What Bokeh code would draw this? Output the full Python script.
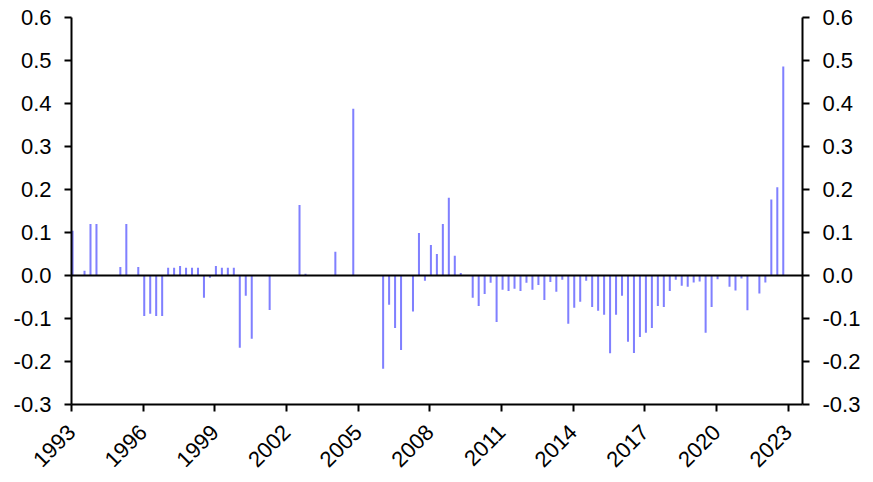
import math
from bokeh.plotting import figure
from bokeh.models import Range1d, LinearAxis, FixedTicker, PrintfTickFormatter, Span, ColumnDataSource
from bokeh.embed import file_html
from bokeh.resources import INLINE

# Quarterly series, starting 1993 Q1
start_year = 1993
values = [
    0.104, 0.000, 0.011, 0.120, 0.120, 0.000, 0.000, 0.000,      # 1993-1994
    0.020, 0.120, 0.000, 0.020, -0.094, -0.089, -0.094, -0.094,  # 1995-1996
    0.018, 0.018, 0.022, 0.018, 0.018, 0.018, -0.052, -0.005,    # 1997-1998
    0.022, 0.018, 0.018, 0.018, -0.168, -0.047, -0.147, 0.000,   # 1999-2000
    0.000, -0.080, 0.000, 0.000, 0.000, 0.000, 0.164, 0.004,     # 2001-2002
    0.000, 0.000, 0.000, 0.000, 0.055, 0.000, 0.000, 0.388,      # 2003-2004
    0.000, 0.000, 0.000, 0.000, -0.217, -0.068, -0.122, -0.173,  # 2005-2006
    0.000, -0.084, 0.099, -0.012, 0.071, 0.050, 0.120, 0.181,    # 2007-2008
    0.046, 0.006, 0.000, -0.052, -0.071, -0.043, -0.017, -0.108, # 2009-2010
    -0.033, -0.036, -0.031, -0.036, -0.017, -0.033, -0.022, -0.057,  # 2011-2012
    -0.015, -0.038, -0.010, -0.112, -0.075, -0.061, -0.012, -0.073,  # 2013-2014
    -0.082, -0.091, -0.181, -0.091, -0.047, -0.154, -0.180, -0.143,  # 2015-2016
    -0.133, -0.122, -0.071, -0.073, -0.036, -0.010, -0.024, -0.026,  # 2017-2018
    -0.016, -0.014, -0.133, -0.073, -0.009, 0.000, -0.026, -0.035,   # 2019-2020
    -0.007, -0.081, 0.000, -0.042, -0.016, 0.177, 0.205, 0.486,      # 2021-2022
]
x_ticks = [1993, 1996, 1999, 2002, 2005, 2008, 2011, 2014, 2017, 2020, 2023]
y_ticks = [-0.3, -0.2, -0.1, 0.0, 0.1, 0.2, 0.3, 0.4, 0.5, 0.6]

# bars sit just to the right of each quarter's start
xs = [start_year + 0.25 * i + 0.045 for i in range(len(values))]
src = ColumnDataSource(data=dict(x=xs, v=values))

FONT = "Liberation Sans"
p = figure(width=868, height=480,
           x_range=Range1d(1993, 2023.6), y_range=Range1d(-0.3, 0.6),
           output_backend="svg", toolbar_location=None,
           min_border_left=71, min_border_right=66,
           min_border_top=17, min_border_bottom=76)
p.xgrid.visible = False
p.ygrid.visible = False
p.outline_line_color = None
p.background_fill_color = "white"
p.border_fill_color = "white"

p.vbar(x="x", top="v", bottom=0, width=0.085, source=src,
       fill_color="#8080ff", line_color=None)

p.add_layout(Span(location=0, dimension="width", line_color="black", line_width=2))

p.add_layout(LinearAxis(), "right")

for ax in p.xaxis + p.yaxis:
    ax.axis_line_color = "black"
    ax.axis_line_width = 2
    ax.major_tick_line_color = "black"
    ax.major_tick_line_width = 2
    ax.major_tick_out = 7
    ax.major_tick_in = 0
    ax.minor_tick_out = 0
    ax.minor_tick_in = 0
    ax.major_label_text_font = FONT
    ax.major_label_text_font_size = "22px"
    ax.major_label_text_color = "black"

for ax in p.yaxis:
    ax.ticker = FixedTicker(ticks=y_ticks)
    ax.formatter = PrintfTickFormatter(format="%.1f")
    ax.major_label_standoff = 13
for ax in p.xaxis:
    ax.ticker = FixedTicker(ticks=x_ticks)
    ax.major_label_orientation = math.pi / 4
    ax.major_label_standoff = 17

open("out.html", "w").write(file_html(p, INLINE))
